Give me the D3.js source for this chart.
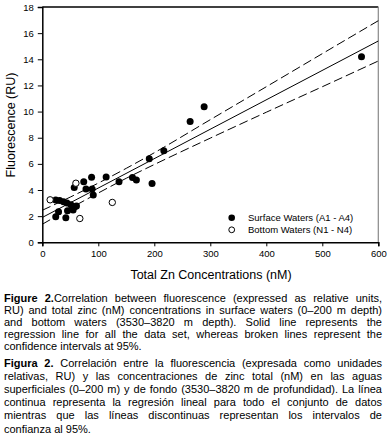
<!DOCTYPE html>
<html><head><meta charset="utf-8">
<script src="https://cdn.jsdelivr.net/npm/d3@7"></script>
<style>
html,body{margin:0;padding:0;background:#fff;}
svg{display:block;font-family:"Liberation Sans",Arial,sans-serif;}
</style></head>
<body>
<script>
// ---- data ----
const surfaceX = [24,29,42,45,24,31,38,44,51,55,58,61,57,74,78,88,89,91,114,137,161,168,191,196,217,264,289,570];
const surfaceY = [1.96,2.34,1.88,2.42,3.23,3.2,3.1,3.0,2.88,2.47,2.72,2.78,4.2,4.63,4.07,4.98,4.07,3.62,5.0,4.63,4.96,4.76,6.39,4.5,7.0,9.25,10.37,14.2];
const bottomX = [14,60,67,125];
const bottomY = [3.25,4.52,1.82,3.05];
const regX = [0,600];
const regY = [1.9,15.4];
const ciX = [0,50,100,150,200,300,400,500,600];
const ciUpper = [2.45,3.46,4.53,5.66,6.85,9.38,11.9,14.43,16.95];
const ciLower = [1.38,2.6,3.77,4.9,5.95,7.97,9.95,11.9,13.87];
const xTicks = [0,100,200,300,400,500,600];
const yTicks = [0,2,4,6,8,10,12,14,16,18];
const legendLabels = ["Surface Waters (A1 - A4)","Bottom Waters (N1 - N4)"];
const xTitle = "Total Zn Concentrations (nM)";
const yTitle = "Fluorescence (RU)";
const captionEN = [
  [["Figure 2.",true],["Correlation between fluorescence (expressed as relative units,",false]],
  [["RU) and total zinc (nM) concentrations in surface waters (0\u2013200 m depth)",false]],
  [["and bottom waters (3530\u20133820 m depth). Solid line represents the",false]],
  [["regression line for all the data set, whereas broken lines represent the",false]],
  [["confidence intervals at 95%.",false]]
];
const captionES = [
  [["Figura 2.",true],[" Correlaci\u00f3n entre la fluorescencia (expresada como unidades",false]],
  [["relativas, RU) y las concentraciones de zinc total (nM) en las aguas",false]],
  [["superficiales (0\u2013200 m) y de fondo (3530\u20133820 m de profundidad). La l\u00ednea",false]],
  [["continua representa la regresi\u00f3n lineal para todo el conjunto de datos",false]],
  [["mientras que las l\u00edneas discontinuas representan los intervalos de",false]],
  [["confianza al 95%.",false]]
];

// ---- chart ----
const W = 388, H = 446;
const svg = d3.select("body").append("svg").attr("width",W).attr("height",H);
const x = d3.scaleLinear().domain([0,600]).range([42.3,378.3]);
const y = d3.scaleLinear().domain([0,18]).range([242.3,7]);

// frame top/right
svg.append("line").attr("x1",x(0)).attr("x2",x(600)).attr("y1",y(18)).attr("y2",y(18))
  .attr("stroke","#000").attr("stroke-width",1.5);
svg.append("line").attr("x1",x(600)).attr("x2",x(600)).attr("y1",y(18)).attr("y2",y(0))
  .attr("stroke","#888").attr("stroke-width",1.2);

const xAxis = svg.append("g").attr("transform",`translate(0,${y(0)})`)
  .call(d3.axisBottom(x).tickValues(xTicks).tickSize(4).tickPadding(4).tickFormat(d3.format("d")));
const yAxis = svg.append("g").attr("transform",`translate(${x(0)},0)`)
  .call(d3.axisLeft(y).tickValues(yTicks).tickSize(4.5).tickPadding(4).tickFormat(d3.format("d")));
[xAxis,yAxis].forEach(a=>{
  a.select(".domain").attr("stroke","#000").attr("stroke-width",1.5);
  a.selectAll(".tick line").attr("stroke","#000").attr("stroke-width",1);
  a.selectAll("text").attr("font-family","Liberation Sans, Arial, sans-serif").attr("font-size",9.5).attr("fill","#000");
});

// regression + CI
const ln = d3.line().x(d=>x(d[0])).y(d=>y(d[1]));
const lnC = d3.line().x(d=>x(d[0])).y(d=>y(d[1])).curve(d3.curveMonotoneX);
svg.append("path").attr("d",ln(regX.map((v,i)=>[v,regY[i]]))).attr("fill","none").attr("stroke","#000").attr("stroke-width",1);
[ciUpper,ciLower].forEach(arr=>{
  svg.append("path").attr("d",lnC(ciX.map((v,i)=>[v,arr[i]]))).attr("fill","none")
    .attr("stroke","#000").attr("stroke-width",1).attr("stroke-dasharray","9,4");
});

// points
svg.append("g").selectAll("circle").data(surfaceX.map((v,i)=>[v,surfaceY[i]])).join("circle")
  .attr("cx",d=>x(d[0])).attr("cy",d=>y(d[1])).attr("r",3.5).attr("fill","#000");
svg.append("g").selectAll("circle").data(bottomX.map((v,i)=>[v,bottomY[i]])).join("circle")
  .attr("cx",d=>x(d[0])).attr("cy",d=>y(d[1])).attr("r",3.2).attr("fill","#fff").attr("stroke","#000").attr("stroke-width",1);

// legend
const lg = svg.append("g");
lg.append("circle").attr("cx",231.7).attr("cy",217.7).attr("r",3.3).attr("fill","#000");
lg.append("circle").attr("cx",231.7).attr("cy",229.8).attr("r",2.9).attr("fill","#fff").attr("stroke","#000");
legendLabels.forEach((t,i)=>{
  lg.append("text").attr("x",248).attr("y",221+12*i).attr("font-size",9.5).attr("fill","#000").text(t);
});

// titles
svg.append("text").attr("x",211).attr("y",278.5).attr("text-anchor","middle").attr("font-size",12.5).text(xTitle);
svg.append("text").attr("transform",`translate(15,125) rotate(-90)`).attr("text-anchor","middle").attr("font-size",12.5).text(yTitle);

// captions (justified lines)
function caption(lines, y0, lh){
  lines.forEach((parts,i)=>{
    const t = svg.append("text").attr("x",4).attr("y",y0+i*lh).attr("font-size",11).attr("fill","#000");
    parts.forEach(p=>{
      t.append("tspan").attr("font-weight",p[1]?"bold":null).text(p[0]);
    });
    if(i<lines.length-1){
      const target = 378;
      const w = t.node().getComputedTextLength();
      const full = parts.map(p=>p[0]).join("");
      const n = (full.match(/ /g)||[]).length;
      if(w<target && n>0){ t.attr("word-spacing",(target-w)/n); }
      else if(w>target){ t.attr("textLength",target).attr("lengthAdjust","spacingAndGlyphs"); }
    }
  });
}
caption(captionEN, 301.5, 12.2);
caption(captionES, 366.5, 13.2);
</script>
</body></html>
